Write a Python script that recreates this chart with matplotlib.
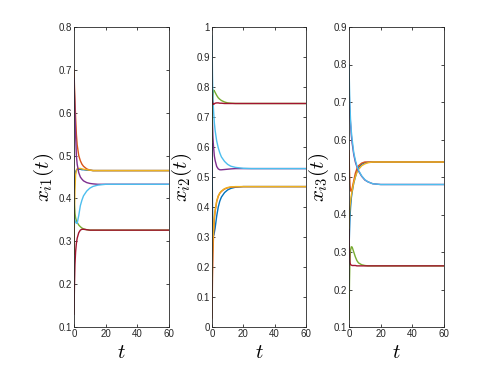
import matplotlib
matplotlib.use("Agg")
import matplotlib.pyplot as plt

plt.rcParams['font.family'] = ['Liberation Sans', 'DejaVu Sans']
plt.rcParams['mathtext.fontset'] = 'cm'

# common time samples
t = [0, 0.3, 0.6, 1, 1.5, 2, 3, 4, 5, 6, 8, 10, 12, 15, 20, 25, 30, 40, 60]

# MATLAB default colour order
colors = ['#0072BD', '#D95319', '#EDB120', '#7E2F8E', '#77AC30', '#4DBEEE', '#A2142F']

# ---- x_i1(t) ----
x1_blue   = [0.40, 0.43, 0.45, 0.462, 0.466, 0.468, 0.468, 0.468, 0.467, 0.467, 0.466, 0.466, 0.465, 0.465, 0.465, 0.465, 0.465, 0.465, 0.465]
x1_orange = [0.70, 0.66, 0.63, 0.59, 0.55, 0.525, 0.50, 0.488, 0.48, 0.475, 0.469, 0.466, 0.465, 0.465, 0.465, 0.465, 0.465, 0.465, 0.465]
x1_yellow = [0.27, 0.36, 0.42, 0.455, 0.465, 0.469, 0.47, 0.47, 0.469, 0.468, 0.467, 0.466, 0.465, 0.465, 0.465, 0.465, 0.465, 0.465, 0.465]
x1_purple = [0.68, 0.64, 0.60, 0.55, 0.50, 0.48, 0.46, 0.45, 0.445, 0.441, 0.437, 0.435, 0.434, 0.433, 0.433, 0.433, 0.433, 0.433, 0.433]
x1_green  = [0.40, 0.38, 0.365, 0.355, 0.348, 0.344, 0.338, 0.334, 0.331, 0.329, 0.327, 0.326, 0.326, 0.326, 0.326, 0.326, 0.326, 0.326, 0.326]
x1_lblue  = [0.357, 0.352, 0.348, 0.345, 0.342, 0.342, 0.36, 0.383, 0.396, 0.406, 0.417, 0.424, 0.428, 0.431, 0.433, 0.433, 0.433, 0.433, 0.433]
x1_red    = [0.13, 0.20, 0.245, 0.275, 0.295, 0.307, 0.32, 0.326, 0.328, 0.328, 0.327, 0.326, 0.326, 0.326, 0.326, 0.326, 0.326, 0.326, 0.326]

# ---- x_i2(t) ----
x2_blue   = [0.61, 0.40, 0.32, 0.305, 0.315, 0.33, 0.37, 0.40, 0.42, 0.433, 0.448, 0.457, 0.462, 0.466, 0.468, 0.468, 0.468, 0.468, 0.468]
x2_orange = [0.03, 0.16, 0.24, 0.31, 0.36, 0.385, 0.418, 0.436, 0.446, 0.452, 0.46, 0.464, 0.466, 0.467, 0.468, 0.468, 0.468, 0.468, 0.468]
x2_yellow = [0.16, 0.24, 0.29, 0.33, 0.37, 0.39, 0.42, 0.437, 0.447, 0.453, 0.461, 0.465, 0.467, 0.468, 0.468, 0.468, 0.468, 0.468, 0.468]
x2_purple = [0.74, 0.68, 0.63, 0.60, 0.57, 0.555, 0.535, 0.527, 0.524, 0.524, 0.525, 0.526, 0.527, 0.528, 0.528, 0.528, 0.528, 0.528, 0.528]
x2_green  = [0.62, 0.72, 0.77, 0.79, 0.787, 0.782, 0.772, 0.764, 0.759, 0.755, 0.75, 0.747, 0.746, 0.745, 0.745, 0.745, 0.745, 0.745, 0.745]
x2_lblue  = [0.97, 0.84, 0.76, 0.72, 0.68, 0.655, 0.62, 0.597, 0.58, 0.567, 0.552, 0.542, 0.536, 0.532, 0.529, 0.528, 0.528, 0.528, 0.528]
x2_red    = [0.775, 0.752, 0.744, 0.742, 0.744, 0.746, 0.747, 0.747, 0.746, 0.746, 0.745, 0.745, 0.745, 0.745, 0.745, 0.745, 0.745, 0.745, 0.745]

# ---- x_i3(t) ----
x3_blue   = [0.30, 0.35, 0.39, 0.42, 0.445, 0.46, 0.484, 0.50, 0.515, 0.525, 0.534, 0.538, 0.539, 0.54, 0.54, 0.54, 0.54, 0.54, 0.54]
x3_orange = [0.57, 0.52, 0.48, 0.463, 0.462, 0.47, 0.49, 0.51, 0.522, 0.53, 0.537, 0.54, 0.54, 0.54, 0.54, 0.54, 0.54, 0.54, 0.54]
x3_yellow = [0.36, 0.40, 0.42, 0.437, 0.452, 0.463, 0.485, 0.50, 0.512, 0.52, 0.53, 0.535, 0.538, 0.54, 0.54, 0.54, 0.54, 0.54, 0.54]
x3_purple = [0.75, 0.70, 0.67, 0.64, 0.61, 0.59, 0.56, 0.54, 0.527, 0.516, 0.502, 0.492, 0.487, 0.482, 0.48, 0.48, 0.48, 0.48, 0.48]
x3_green  = [0.12, 0.22, 0.28, 0.305, 0.314, 0.313, 0.30, 0.287, 0.277, 0.271, 0.266, 0.264, 0.263, 0.263, 0.263, 0.263, 0.263, 0.263, 0.263]
x3_lblue  = [0.80, 0.74, 0.69, 0.65, 0.62, 0.60, 0.565, 0.545, 0.53, 0.518, 0.503, 0.493, 0.487, 0.482, 0.48, 0.48, 0.48, 0.48, 0.48]
x3_red    = [0.36, 0.30, 0.272, 0.266, 0.265, 0.264, 0.264, 0.264, 0.263, 0.263, 0.263, 0.263, 0.263, 0.263, 0.263, 0.263, 0.263, 0.263, 0.263]

panels = [
    ([x1_blue, x1_orange, x1_yellow, x1_purple, x1_green, x1_lblue, x1_red], r'$x_{i1}(t)$', (0.1, 0.8),
     [0.1, 0.2, 0.3, 0.4, 0.5, 0.6, 0.7, 0.8], ['0.1', '0.2', '0.3', '0.4', '0.5', '0.6', '0.7', '0.8']),
    ([x2_blue, x2_orange, x2_yellow, x2_purple, x2_green, x2_lblue, x2_red], r'$x_{i2}(t)$', (0.0, 1.0),
     [0, 0.1, 0.2, 0.3, 0.4, 0.5, 0.6, 0.7, 0.8, 0.9, 1.0],
     ['0', '0.1', '0.2', '0.3', '0.4', '0.5', '0.6', '0.7', '0.8', '0.9', '1']),
    ([x3_blue, x3_orange, x3_yellow, x3_purple, x3_green, x3_lblue, x3_red], r'$x_{i3}(t)$', (0.1, 0.9),
     [0.1, 0.2, 0.3, 0.4, 0.5, 0.6, 0.7, 0.8, 0.9],
     ['0.1', '0.2', '0.3', '0.4', '0.5', '0.6', '0.7', '0.8', '0.9']),
]
xticks = [0, 20, 40, 60]
xticklabels = ['0', '20', '40', '60']

fig = plt.figure(figsize=(4.91, 3.68), dpi=100)
lefts = [74, 212, 349]
widths = [95, 94, 95]
axcol = '#262626'
for (series, ylab, ylim, yt, ytl), l, w in zip(panels, lefts, widths):
    ax = fig.add_axes([l / 491, 1 - 327 / 368, w / 491, 300 / 368])
    for s, c in zip(series, colors):
        ax.plot(t, s, color=c, lw=1.0)
    ax.set_xlim(0, 60)
    ax.set_ylim(*ylim)
    ax.set_xticks(xticks)
    ax.set_xticklabels(xticklabels)
    ax.set_yticks(yt)
    ax.set_yticklabels(ytl)
    ax.tick_params(direction='in', length=2.5, width=0.6, labelsize=7, colors=axcol,
                   top=True, right=True, pad=1.5)
    for sp in ax.spines.values():
        sp.set_color(axcol)
        sp.set_linewidth(0.6)
    ax.set_ylabel(ylab, fontsize=15, labelpad=2, color='black')
    ax.set_xlabel(r'$t$', fontsize=15, labelpad=3, color='black')

fig.savefig('out.png', dpi=100)
